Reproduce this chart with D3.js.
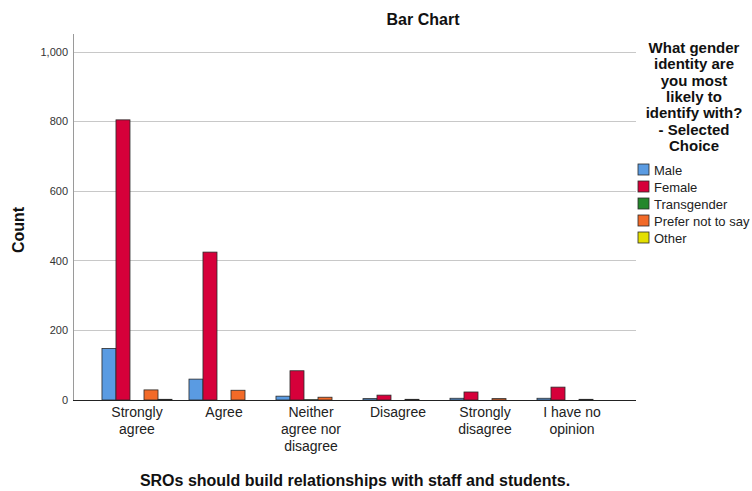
<!DOCTYPE html>
<html><head><meta charset="utf-8">
<script src="https://cdn.jsdelivr.net/npm/d3@7"></script>
<style>body{margin:0;background:#fff;} svg{display:block;font-family:"Liberation Sans",Arial,sans-serif;}</style>
</head><body>
<svg id="c" width="752" height="491"></svg>
<script>
const categories = [["Strongly","agree"],["Agree"],["Neither","agree nor","disagree"],["Disagree"],["Strongly","disagree"],["I have no","opinion"]];
const seriesNames = ["Male","Female","Transgender","Prefer not to say","Other"];
const seriesColors = ["#5a9be2","#d6003a","#24872c","#f26a28","#e3df00"];
const male        = [148, 60, 11, 4, 5, 5];
const female      = [805, 425, 84, 14, 23, 37];
const transgender = [0, 0, 1, 0, 0, 0];
const preferNot   = [29, 28, 8, 2, 4, 2];
const other       = [2, 0, 0, 0, 0, 0];
const yTicks = [0, 200, 400, 600, 800, 1000];
const chartTitle = "Bar Chart";
const xTitle = "SROs should build relationships with staff and students.";
const yTitle = "Count";
const legendTitle = ["What gender","identity are","you most","likely to","identify with?","- Selected","Choice"];

const series = [male, female, transgender, preferNot, other];
const svg = d3.select("#c");
const L = 73, R = 636, T = 34, B = 400;

const x0 = d3.scaleBand().domain(d3.range(categories.length)).range([L, R]).paddingInner(0.195).paddingOuter(0.333);
const x1 = d3.scaleBand().domain(d3.range(seriesNames.length)).range([0, x0.bandwidth()]);
const y = d3.scaleLinear().domain([0, 1000]).range([B, 52]);

// gridlines
svg.append("g").selectAll("line").data(yTicks.filter(d => d > 0)).join("line")
  .attr("x1", L).attr("x2", R).attr("y1", d => y(d)).attr("y2", d => y(d))
  .attr("stroke", "#c8c8c8").attr("stroke-width", 1).attr("shape-rendering","crispEdges");

// y axis line
svg.append("line").attr("x1", L).attr("x2", L).attr("y1", T).attr("y2", B)
  .attr("stroke", "#9a9a9a").attr("shape-rendering","crispEdges");

// y tick labels
svg.append("g").selectAll("text").data(yTicks).join("text")
  .attr("x", L - 5).attr("y", d => y(d)).attr("dy", "0.35em")
  .attr("text-anchor", "end").attr("font-size", 11).attr("fill", "#333")
  .text(d => d3.format(",")(d));

// bars
const g = svg.append("g");
series.forEach((vals, si) => {
  g.selectAll(null).data(vals).join("rect")
    .attr("x", (d, i) => x0(i) + x1(si))
    .attr("y", d => y(d))
    .attr("width", x1.bandwidth())
    .attr("height", d => B - y(d))
    .attr("fill", seriesColors[si])
    .attr("stroke", "#2a2a2a").attr("stroke-width", 0.8);
});

// baseline
svg.append("line").attr("x1", L).attr("x2", R).attr("y1", B + 0.5).attr("y2", B + 0.5)
  .attr("stroke", "#222").attr("stroke-width", 1);

// category labels
categories.forEach((lines, i) => {
  const t = svg.append("text").attr("text-anchor", "middle").attr("font-size", 14).attr("fill", "#222");
  lines.forEach((ln, k) => {
    t.append("tspan").attr("x", x0(i) + x0.bandwidth() / 2).attr("y", 417 + k * 17).text(ln);
  });
});

// titles
svg.append("text").attr("x", 423).attr("y", 25).attr("text-anchor", "middle")
  .attr("font-size", 16).attr("font-weight", "bold").attr("fill", "#111").text(chartTitle);
svg.append("text").attr("x", 355).attr("y", 486).attr("text-anchor", "middle")
  .attr("font-size", 16).attr("font-weight", "bold").attr("fill", "#111").text(xTitle);
svg.append("text").attr("transform", "translate(24,230) rotate(-90)").attr("text-anchor", "middle")
  .attr("font-size", 16).attr("font-weight", "bold").attr("fill", "#111").text(yTitle);

// legend
const lt = svg.append("text").attr("text-anchor", "middle").attr("font-size", 15)
  .attr("font-weight", "bold").attr("fill", "#111");
legendTitle.forEach((ln, k) => {
  lt.append("tspan").attr("x", 694).attr("y", 53 + k * 16.3).text(ln);
});
const lg = svg.append("g").selectAll("g").data(seriesNames).join("g")
  .attr("transform", (d, i) => `translate(638,${164 + i * 17})`);
lg.append("rect").attr("width", 11).attr("height", 11)
  .attr("fill", (d, i) => seriesColors[i]).attr("stroke", "#2a2a2a").attr("stroke-width", 0.8);
lg.append("text").attr("x", 16).attr("y", 6).attr("dy", "0.35em")
  .attr("font-size", 13).attr("fill", "#222").text(d => d);
</script>
</body></html>
